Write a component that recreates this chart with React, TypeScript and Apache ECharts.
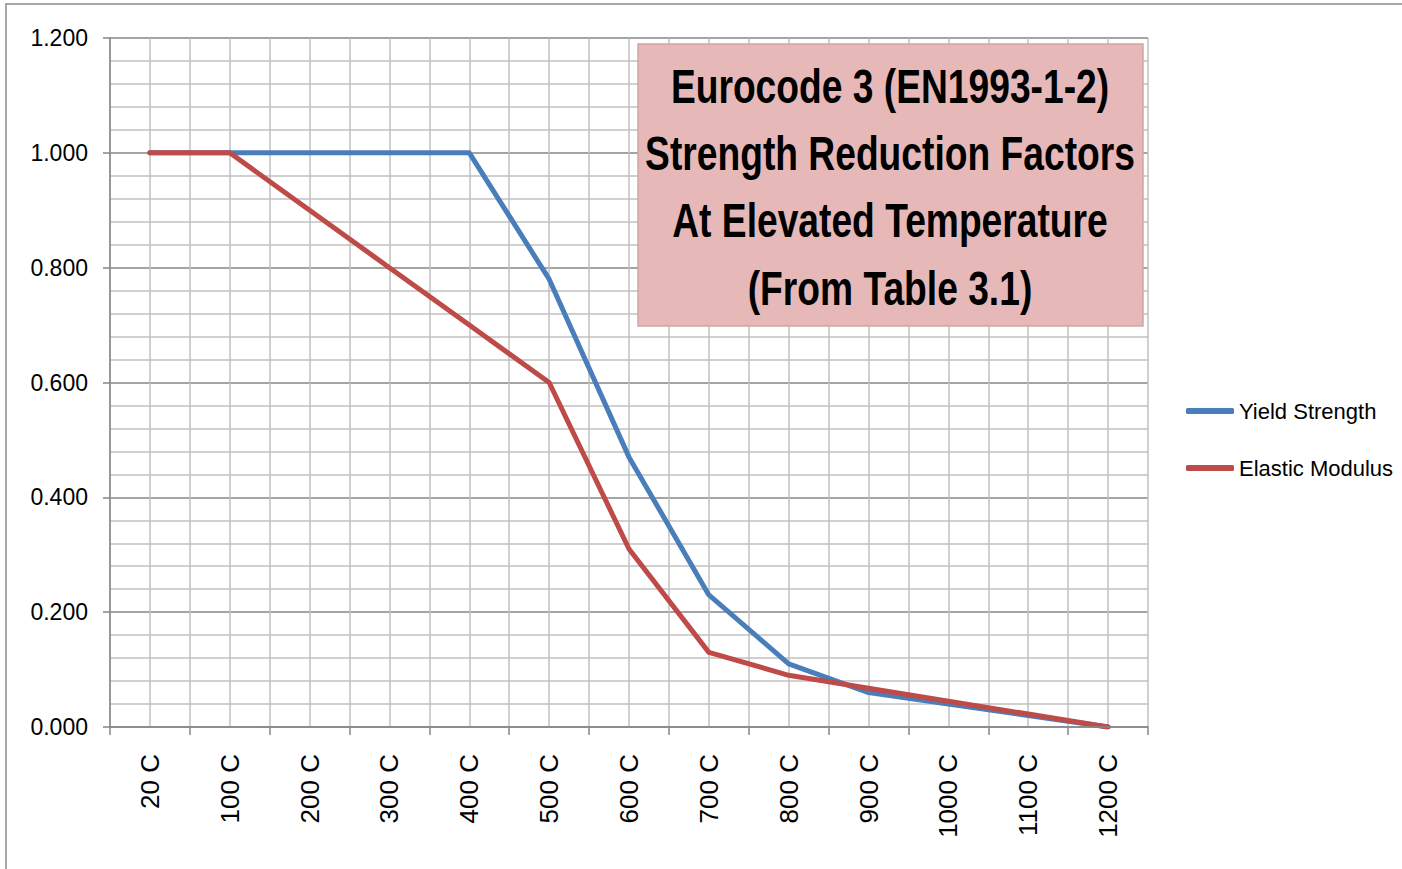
import React, { useEffect, useRef } from "react";
import * as echarts from "echarts";

const categories = ["20 C", "100 C", "200 C", "300 C", "400 C", "500 C", "600 C", "700 C", "800 C", "900 C", "1000 C", "1100 C", "1200 C"];
const yieldStrength = [1, 1, 1, 1, 1, 0.78, 0.47, 0.23, 0.11, 0.06, 0.04, 0.02, 0];
const elasticModulus = [1, 1, 0.9, 0.8, 0.7, 0.6, 0.31, 0.13, 0.09, 0.0675, 0.045, 0.0225, 0];
const titleLines = ["Eurocode 3 (EN1993-1-2)", "Strength Reduction Factors", "At Elevated Temperature", "(From Table 3.1)"];

const SANS = '"Liberation Sans", Arial, sans-serif';

export default function App() {
  const ref = useRef<HTMLDivElement>(null);
  useEffect(() => {
    if (!ref.current) return;
    const chart = echarts.init(ref.current, undefined, { renderer: "svg" });
    chart.setOption({
      animation: false,
      backgroundColor: "#ffffff",
      grid: { left: 110, top: 38, width: 1038, height: 689, containLabel: false },
      legend: {
        orient: "vertical",
        left: 1181,
        top: 391,
        itemWidth: 48,
        itemHeight: 6,
        itemGap: 27,
        icon: "roundRect",
        textStyle: { fontFamily: SANS, fontSize: 22, color: "#000", lineHeight: 30 },
        data: ["Yield Strength", "Elastic Modulus"],
      },
      xAxis: [
        {
          type: "category",
          data: categories,
          boundaryGap: true,
          axisLine: { lineStyle: { color: "#868686", width: 1.5 } },
          axisTick: { show: true, length: 8, lineStyle: { color: "#868686", width: 1.5 } },
          axisLabel: { rotate: 90, margin: 27, fontFamily: SANS, fontSize: 26, color: "#000", interval: 0 },
          splitLine: { show: false },
          z: 5,
        },
        {
          type: "value",
          min: 0,
          max: 13,
          interval: 0.5,
          position: "bottom",
          axisLine: { show: false },
          axisTick: { show: false },
          axisLabel: { show: false },
          splitLine: { show: true, lineStyle: { color: "#c0c0c0", width: 1.5 } },
        },
      ],
      yAxis: {
        type: "value",
        min: 0,
        max: 1.2,
        interval: 0.2,
        axisLine: { show: true, lineStyle: { color: "#868686", width: 1.5 } },
        axisTick: { show: true, length: 7, lineStyle: { color: "#868686", width: 1.5 } },
        axisLabel: {
          margin: 22,
          fontFamily: SANS,
          fontSize: 23,
          color: "#000",
          formatter: (v: number) => v.toFixed(3),
        },
        splitLine: { show: true, lineStyle: { color: "#868686", width: 1.5 } },
        minorTick: { show: false, splitNumber: 5 },
        minorSplitLine: { show: true, lineStyle: { color: "#c0c0c0", width: 1.5 } },
      },
      series: [
        {
          name: "Yield Strength",
          type: "line",
          data: yieldStrength,
          xAxisIndex: 0,
          symbol: "none",
          color: "#4a7ebb",
          lineStyle: { width: 5, color: "#4a7ebb", cap: "round", join: "round" },
          z: 3,
        },
        {
          name: "Elastic Modulus",
          type: "line",
          data: elasticModulus,
          xAxisIndex: 0,
          symbol: "none",
          color: "#be4b48",
          lineStyle: { width: 5, color: "#be4b48", cap: "round", join: "round" },
          z: 4,
        },
      ],
      graphic: [
        {
          type: "rect",
          shape: { x: 6, y: 4, width: 1420, height: 900 },
          style: { fill: "none", stroke: "#8c8c8c", lineWidth: 1.5 },
          silent: true,
          z: 10,
        },
        {
          type: "rect",
          shape: { x: 638, y: 44, width: 505, height: 282 },
          style: { fill: "#e6b9b8", stroke: "#d0a6a5", lineWidth: 1.5 },
          z: 20,
        },
        ...titleLines.map((t, i) => ({
          type: "text",
          x: 890,
          y: [86, 153, 220, 288][i],
          scaleX: 0.775,
          style: {
            text: t,
            fill: "#000",
            fontFamily: SANS,
            fontWeight: "bold",
            fontSize: 48,
            textAlign: "center",
            textVerticalAlign: "middle",
          },
          z: 21,
        })),
      ],
    });
    return () => chart.dispose();
  }, []);
  return <div ref={ref} style={{ position: "absolute", left: 0, top: 0, width: 1402, height: 869 }} />;
}
